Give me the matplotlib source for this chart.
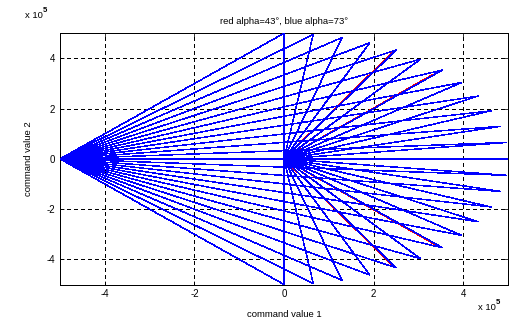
import numpy as np
import matplotlib

matplotlib.use("Agg")
import matplotlib.pyplot as plt

plt.rcParams["font.family"] = ["Liberation Sans", "DejaVu Sans"]

BLUE, RED, INK = "#0000FF", "#FF0000", "#000000"

# fan of polylines: left corner -> tip on the r=5e5 circle -> back to near origin
FAN_START = (-5e5, 0.0)
TIP_RADIUS = 5e5
TIP_ANGLES = [-90, -82.5, -75, -67.5, -60, -52.5, -45, -37.5, -30, -22.5, -15, -7.5, 0,
              7.5, 15, 22.5, 30, 37.5, 45, 52.5, 60, 67.5, 75, 82.5, 90]
INNER_RADII = [0.0, 0.02e5, 0.04e5, 0.06e5, 0.08e5, 0.10e5, 0.11e5, 0.12e5, 0.13e5, 0.14e5, 0.15e5, 0.15e5, 0.15e5,
               0.15e5, 0.15e5, 0.14e5, 0.13e5, 0.12e5, 0.11e5, 0.10e5, 0.08e5, 0.06e5, 0.04e5, 0.02e5, 0.0]

# red set (alpha=43) mostly hidden under the blue one
RED_ANGLES = [60.3, 45.3, -60.3, -45.3]
RED_R0 = [0.3e5, 0.2e5, 0.3e5, 0.2e5]
RED_R1 = [4.95e5, 4.7e5, 4.95e5, 4.9e5]

TICKS = [-4e5, -2e5, 0, 2e5, 4e5]
TICK_LABELS = ["-4", "-2", "0", "2", "4"]

LW = 0.55
DATA_LW = 0.35


def main():
    fig = plt.figure(figsize=(5.13, 3.21), dpi=100)
    fig.patch.set_facecolor("white")
    ax = fig.add_axes([60 / 513, 1 - 284.5 / 321, 448 / 513, 251.2 / 321])

    for a, r0, r1 in zip(RED_ANGLES, RED_R0, RED_R1):
        t = np.radians(a)
        ax.plot([r0 * np.cos(t), r1 * np.cos(t)], [r0 * np.sin(t), r1 * np.sin(t)],
                color=RED, lw=DATA_LW, zorder=2, antialiased=False)

    for a, ri in zip(TIP_ANGLES, INNER_RADII):
        t = np.radians(a)
        xs = [FAN_START[0], TIP_RADIUS * np.cos(t), ri * np.cos(t)]
        ys = [FAN_START[1], TIP_RADIUS * np.sin(t), ri * np.sin(t)]
        ax.plot(xs, ys, color=BLUE, lw=DATA_LW, zorder=3, antialiased=False)

    ax.set_xlim(-5e5, 5e5)
    ax.set_ylim(-5e5, 5e5)
    ax.set_xticks(TICKS)
    ax.set_xticklabels(TICK_LABELS)
    ax.set_yticks(TICKS)
    ax.set_yticklabels(TICK_LABELS)
    ax.set_axisbelow(True)
    ax.grid(True, color=INK, lw=LW, ls=(0, (5, 4)), antialiased=False)
    ax.tick_params(direction="in", length=3, width=LW, colors=INK, labelsize=7,
                   top=True, right=True, pad=3.5)
    for s in ax.spines.values():
        s.set_color(INK)
        s.set_linewidth(LW)
        s.set_antialiased(False)

    ax.set_title("red alpha=43°, blue alpha=73°", fontsize=6.8, color=INK, pad=7)
    ax.set_xlabel("command value 1", fontsize=6.8, color=INK, labelpad=8)
    ax.set_ylabel("command value 2", fontsize=6.8, color=INK, labelpad=10)

    # MATLAB style exponent labels
    fig.text(25 / 513, 1 - 16 / 321, "x 10", fontsize=6.8, va="center", ha="left")
    fig.text(43 / 513, 1 - 11 / 321, "5", fontsize=5.5, va="center", ha="left", weight="bold")
    fig.text(478 / 513, 1 - 307.5 / 321, "x 10", fontsize=6.8, va="center", ha="left")
    fig.text(496 / 513, 1 - 302.5 / 321, "5", fontsize=5.5, va="center", ha="left", weight="bold")

    fig.savefig("out.png", dpi=100, facecolor="white")


if __name__ == "__main__":
    main()
